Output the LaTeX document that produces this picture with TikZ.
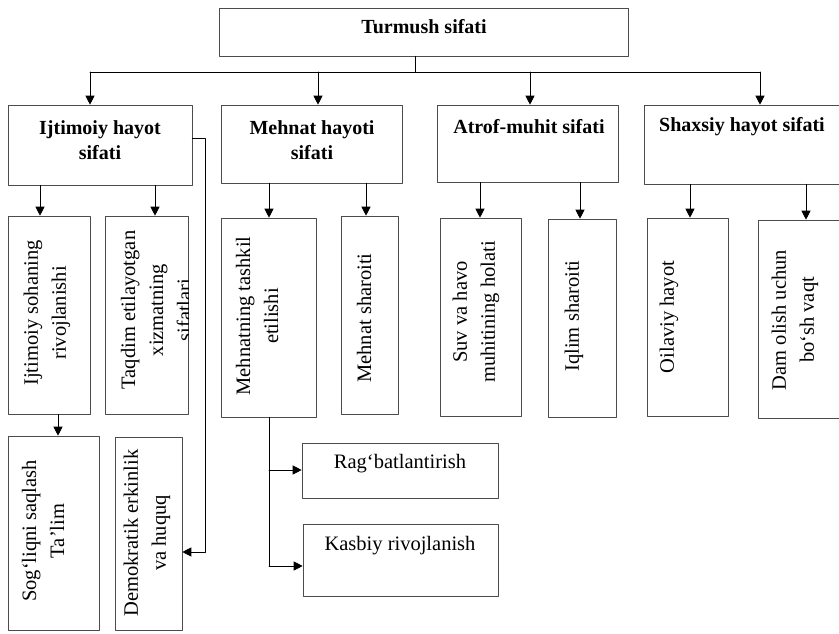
\documentclass[tikz,border=0pt]{standalone}
\usepackage{fontspec}
\setmainfont{Liberation Serif}
\usetikzlibrary{arrows.meta}
\tikzset{
	box/.style 2 args={draw=black!70, line width=0.6pt, minimum width=#1, minimum height=#2, inner sep=0pt},
	head/.style={font=\fontsize{20}{25}\selectfont\bfseries, align=center, inner sep=0pt},
	vtext/.style={rotate=90, align=center, inner sep=0pt},
}
\begin{document}
\begin{tikzpicture}[x=1pt, y=-1pt, >={Triangle[length=9pt,width=9pt]}, font=\fontsize{20.5}{28}\selectfont, line join=round, line cap=round, line width=0.9pt]
		\useasboundingbox (0,0) rectangle (839,634);
		\clip (0,0) rectangle (839,634);
		% Boxes
		\node[box={409pt}{48pt}] (top) at (423.5,32) {};
		\node[box={184pt}{80pt}] (ijt) at (100,145) {};
		\node[box={181pt}{78pt}] (meh) at (311.5,144) {};
		\node[box={181pt}{77pt}] (atr) at (527.5,143.5) {};
		\node[box={201pt}{79pt}] (sha) at (744.5,144.5) {};
		\node[box={82pt}{198pt}] (b1) at (49,315) {};
		\node[box={83pt}{198pt}] (b2) at (146.5,315) {};
		\node[box={95pt}{199pt}] (b3) at (268.5,317.5) {};
		\node[box={57pt}{198pt}] (b4) at (369.5,315) {};
		\node[box={81pt}{198pt}] (b5) at (480.5,317) {};
		\node[box={68pt}{198pt}] (b6) at (582,318) {};
		\node[box={81pt}{198pt}] (b7) at (687.5,317) {};
		\node[box={84pt}{198pt}] (b8) at (800,319) {};
		\node[box={91pt}{194pt}] (b9) at (53.5,533) {};
		\node[box={67pt}{193pt}] (b10) at (148.5,533.5) {};
		\node[box={196pt}{55pt}] (b11) at (400,470.5) {};
		\node[box={195pt}{72pt}] (b12) at (400.5,560) {};
		% Texts
		\node[head] (topt) at (424,27) {Turmush sifati};
		\node[head] (ijtt) at (100,140) {Ijtimoiy hayot\\sifati};
		\node[head] (meht) at (312,140) {Mehnat hayoti\\sifati};
		\node[head] (atrt) at (529,127) {Atrof-muhit sifati};
		\node[head] (shat) at (742,127) {Shaxsiy hayot sifati};
		\node[vtext] (b1t) at (47,313) {Ijtimoiy sohaning\\rivojlanishi};
		\begin{scope}
			\clip (105,216) rectangle (188,414);
			\node[vtext] (b2t) at (156,310) {Taqdim etilayotgan\\xizmatning\\sifatlari};
		\end{scope}
		\node[vtext] (b3t) at (257,316) {Mehnatning tashkil\\etilishi};
		\node[vtext] (b4t) at (364,318) {Mehnat sharoiti};
		\node[vtext] (b5t) at (476,312) {Suv va havo\\muhitining holati};
		\node[vtext] (b6t) at (574,316) {Iqlim sharoiti};
		\node[vtext] (b7t) at (669,317) {Oilaviy hayot};
		\node[vtext] (b8t) at (795,320) {Dam olish uchun\\bo‘sh vaqt};
		\node[vtext] (b9t) at (43,531) {Sog‘liqni saqlash\\Ta’lim};
		\node[vtext] (b10t) at (147,533) {Demokratik erkinlik\\va huquq};
		\node (b11t) at (400,464) {Rag‘batlantirish};
		\node (b12t) at (400,546) {Kasbiy rivojlanish};
		% Connectors
		\draw (top.south -| 415,0) -- (415,72);
		\draw (90,72) -- (760,72);
		\foreach \n/\x in {ijt/90, meh/318, atr/530, sha/760}
			\draw[->] (\x,72) -- (\n.north -| \x,0);
		\foreach \n/\m/\x in {ijt/b1/40, ijt/b2/155, meh/b3/269, meh/b4/366, atr/b5/480, atr/b6/580, sha/b7/690, sha/b8/806}
			\draw[->] (\n.south -| \x,0) -- (\m.north -| \x,0);
		\draw[->] (b1.south -| 58,0) -- (b9.north -| 58,0);
		\draw[->] (ijt.east |- 0,138) -- (205,138) |- (b10.east |- 0,552);
		\draw (b3.south -| 269,0) -- (269,566);
		\draw[->] (269,470) -- (b11.west |- 0,470);
		\draw[->] (269,566) -- (b12.west |- 0,566);
\end{tikzpicture}
\end{document}
